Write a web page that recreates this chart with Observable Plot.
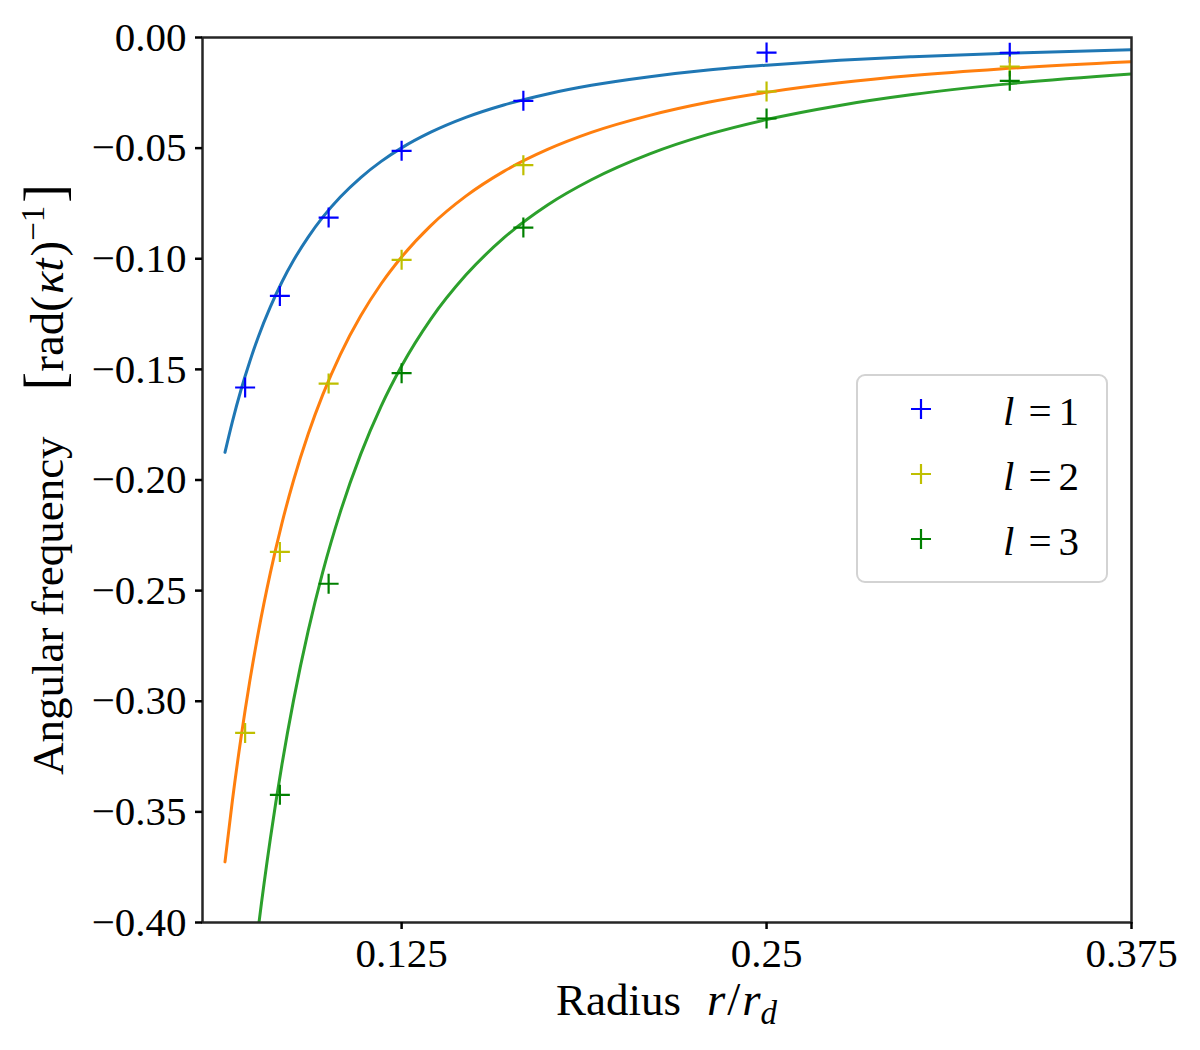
<!DOCTYPE html>
<html>
<head>
<meta charset="utf-8">
<script src="https://cdn.jsdelivr.net/npm/d3@7"></script>
<script src="https://cdn.jsdelivr.net/npm/@observablehq/plot@0.6"></script>
<style>
  body { margin: 0; background: #fff; }
  #chart svg { display: block; }
</style>
</head>
<body>
<div id="chart"></div>
<script>
// ---- Data ----
// Fitted curves (sampled along the drawn lines)
const rCurve  = [0.0645, 0.067, 0.070, 0.073, 0.076, 0.080, 0.084, 0.088, 0.093, 0.098, 0.104, 0.111, 0.118, 0.125, 0.135, 0.147, 0.16, 0.175, 0.19, 0.21, 0.23, 0.25, 0.275, 0.30, 0.33, 0.375];
const curveL1 = [-0.1875, -0.1738, -0.1592, -0.1464, -0.1350, -0.1219, -0.1105, -0.1007, -0.0902, -0.0812, -0.0721, -0.0633, -0.0560, -0.0499, -0.0428, -0.0361, -0.0305, -0.0255, -0.0216, -0.0177, -0.0147, -0.0125, -0.0103, -0.0087, -0.0072, -0.0055];
const curveL2 = [-0.3726, -0.3453, -0.3164, -0.2909, -0.2683, -0.2422, -0.2196, -0.2001, -0.1792, -0.1614, -0.1433, -0.1258, -0.1113, -0.0992, -0.0850, -0.0717, -0.0605, -0.0506, -0.0429, -0.0352, -0.0293, -0.0248, -0.0205, -0.0172, -0.0142, -0.0110];
const curveL3 = [-0.5577, -0.5169, -0.4735, -0.4355, -0.4016, -0.3625, -0.3287, -0.2995, -0.2682, -0.2415, -0.2145, -0.1883, -0.1666, -0.1485, -0.1273, -0.1074, -0.0906, -0.0757, -0.0643, -0.0526, -0.0438, -0.0371, -0.0307, -0.0258, -0.0213, -0.0165];

// Measured points (crosses)
const rPoints  = [0.0714, 0.0833, 0.1000, 0.1250, 0.1667, 0.2500, 0.3333];
const pointsL1 = [-0.1582, -0.1168, -0.0814, -0.0512, -0.0286, -0.0068, -0.0069];
const pointsL2 = [-0.3143, -0.2325, -0.1564, -0.1005, -0.0577, -0.0244, -0.0131];
const rPointsL3 = [0.0833, 0.1000, 0.1250, 0.1667, 0.2500, 0.3333];
const pointsL3 = [-0.3423, -0.2469, -0.1517, -0.0859, -0.0366, -0.0196];

// Ticks
const xTicks = [0.125, 0.25, 0.375];
const xTickLabels = ["0.125", "0.25", "0.375"];
const yTicks = [0, -0.05, -0.10, -0.15, -0.20, -0.25, -0.30, -0.35, -0.40];
const yTickLabels = ["0.00", "\u22120.05", "\u22120.10", "\u22120.15", "\u22120.20", "\u22120.25", "\u22120.30", "\u22120.35", "\u22120.40"];

// Legend
const legendLabels = ["1", "2", "3"];

// ---- Styles ----
const lineColors  = ["#1f77b4", "#ff7f0e", "#2ca02c"];
const pointColors = ["#0000ff", "#bfbf00", "#008000"];
const FONT = "'Liberation Serif', 'Times New Roman', Times, serif";

const toRows = (rs, vs) => rs.map((r, i) => ({r, v: vs[i]}));
const curves = [toRows(rCurve, curveL1), toRows(rCurve, curveL2), toRows(rCurve, curveL3)];
const points = [toRows(rPoints, pointsL1), toRows(rPoints, pointsL2), toRows(rPointsL3, pointsL3)];

// thin "+" marker
const cross = {
  draw(ctx, size) {
    const h = Math.sqrt(size / Math.PI);
    ctx.moveTo(-h, 0); ctx.lineTo(h, 0);
    ctx.moveTo(0, -h); ctx.lineTo(0, h);
  }
};

const marks = [];
curves.forEach((c, i) => marks.push(Plot.line(c, {x: "r", y: "v", stroke: lineColors[i], strokeWidth: 3, curve: "monotone-x", clip: true})));
points.forEach((p, i) => marks.push(Plot.dot(p, {x: "r", y: "v", symbol: cross, r: 10, fill: "none", stroke: pointColors[i], strokeWidth: 2.2, clip: true})));
marks.push(Plot.frame({stroke: "#262626", strokeWidth: 2.5}));
marks.push(Plot.axisX({ticks: xTicks, tickFormat: d => xTickLabels[xTicks.indexOf(d)], tickSize: 7, tickPadding: 8, fontSize: 41, strokeWidth: 2.5, label: null}));
marks.push(Plot.axisY({ticks: yTicks, tickFormat: d => yTickLabels[yTicks.indexOf(d)], tickSize: 7, tickPadding: 9, fontSize: 41, strokeWidth: 2.5, label: null}));

const chart = Plot.plot({
  width: 1200,
  height: 1050,
  marginLeft: 202,
  marginRight: 69,
  marginTop: 37,
  marginBottom: 128,
  style: {fontFamily: FONT, fontSize: "40px", background: "#fff", color: "#000", overflow: "visible"},
  x: {domain: [0.0568, 0.375], label: null},
  y: {domain: [-0.40, 0], label: null},
  marks
});
document.getElementById("chart").append(chart);

const svg = d3.select(chart);

// ---- Legend ----
const lg = svg.append("g").attr("font-family", FONT).attr("font-size", 41).attr("text-anchor", "start");
lg.append("rect").attr("x", 857).attr("y", 375).attr("width", 250).attr("height", 207)
  .attr("rx", 8).attr("fill", "#fff").attr("fill-opacity", 0.8).attr("stroke", "#d3d3d3").attr("stroke-width", 2);
legendLabels.forEach((lab, i) => {
  const cy = 409 + i * 65;
  lg.append("path").attr("d", "M911," + cy + "H931M921," + (cy - 10) + "V" + (cy + 10))
    .attr("stroke", pointColors[i]).attr("stroke-width", 2.2).attr("fill", "none");
  const t = lg.append("text").attr("x", 1003).attr("y", cy + 16).attr("text-anchor", "start");
  t.append("tspan").attr("font-style", "italic").text("l");
  t.append("tspan").attr("dx", 14).text("=");
  t.append("tspan").attr("dx", 7).text(lab);
});

// ---- X axis label ----
const xl = svg.append("text").attr("x", 666.5).attr("y", 1015).attr("text-anchor", "middle")
  .attr("font-family", FONT).attr("font-size", 45);
xl.append("tspan").text("Radius");
xl.append("tspan").attr("dx", 26).attr("font-style", "italic").attr("font-size", 47).text("r");
xl.append("tspan").attr("font-size", 47).attr("dx", 2).text("/");
xl.append("tspan").attr("font-style", "italic").attr("font-size", 47).attr("dx", 2).text("r");
xl.append("tspan").attr("font-style", "italic").attr("font-size", 33).attr("dy", 9).text("d");

// ---- Y axis label ----
const yl = svg.append("text").attr("transform", "translate(63,479.5) rotate(-90)").attr("text-anchor", "middle")
  .attr("font-family", FONT).attr("font-size", 45);
yl.append("tspan").text("Angular frequency");
yl.append("tspan").attr("dx", 46).attr("font-size", 56).text("[");
yl.append("tspan").attr("font-size", 47).text("rad(");
yl.append("tspan").attr("font-style", "italic").attr("font-size", 47).attr("dx", 2).text("\u03BAt");
yl.append("tspan").attr("font-size", 47).attr("dx", 2).text(")");
yl.append("tspan").attr("font-size", 33).attr("dy", -19).text("\u22121");
yl.append("tspan").attr("font-size", 56).attr("dy", 19).attr("dx", 3).text("]");
</script>
</body>
</html>
